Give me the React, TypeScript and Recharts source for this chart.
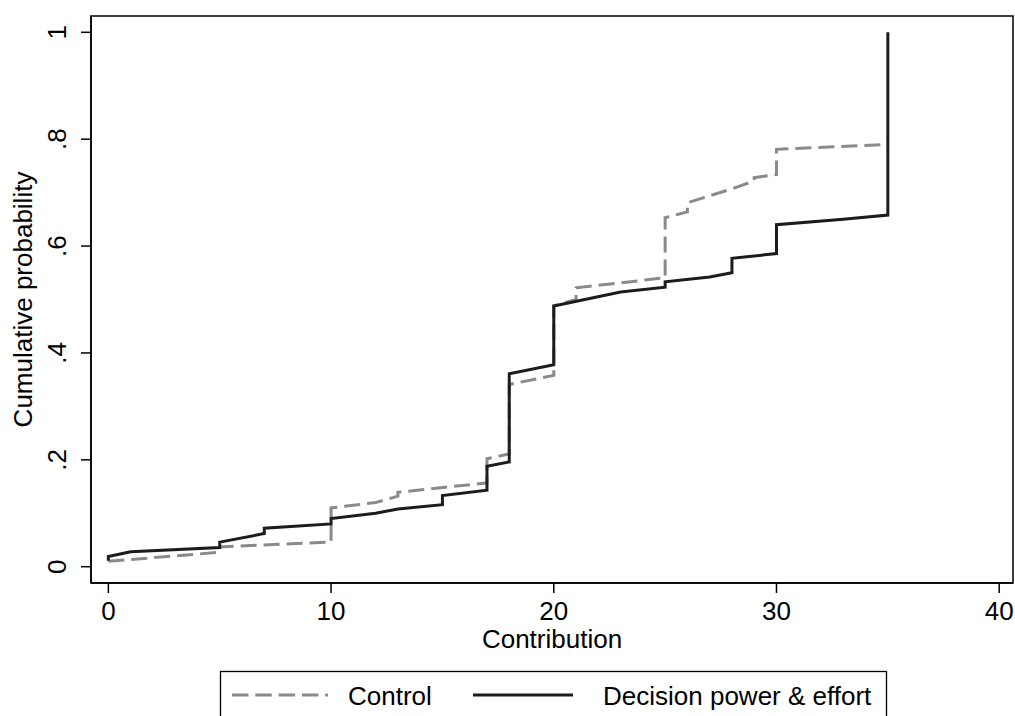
import { LineChart, Line, XAxis, YAxis, ReferenceArea } from 'recharts'

const controlX = [0, 5, 5, 10, 10, 12, 13, 13, 17, 17, 18, 18, 20, 20, 21, 21, 23, 25, 25, 26, 26, 28, 29, 29, 30, 30, 35]
const controlY = [0.010, 0.027, 0.037, 0.046, 0.110, 0.120, 0.132, 0.139, 0.157, 0.202, 0.211, 0.341, 0.358, 0.488, 0.500, 0.522, 0.531, 0.541, 0.653, 0.664, 0.681, 0.707, 0.722, 0.728, 0.734, 0.781, 0.790]

const treatX = [0, 0, 1, 5, 5, 7, 7, 10, 10, 12, 13, 15, 15, 17, 17, 18, 18, 20, 20, 23, 25, 25, 27, 28, 28, 30, 30, 33, 35, 35]
const treatY = [0.011, 0.019, 0.028, 0.036, 0.046, 0.062, 0.072, 0.080, 0.090, 0.100, 0.108, 0.116, 0.133, 0.143, 0.188, 0.196, 0.361, 0.378, 0.488, 0.514, 0.523, 0.533, 0.542, 0.550, 0.577, 0.586, 0.640, 0.650, 0.658, 1.0]

const xTicks = [0, 10, 20, 30, 40]
const yTicks = [0, 0.2, 0.4, 0.6, 0.8, 1]

const seriesNames = ['Control', 'Decision power & effort']

const controlData = controlX.map((x, i) => ({ x, y: controlY[i] }))
const treatData = treatX.map((x, i) => ({ x, y: treatY[i] }))

const FONT = '"Liberation Sans", Arial, Helvetica, sans-serif'
const xDomain = [-0.78, 40.62]
const yDomain = [-0.0305, 1.0305]

const fmtY = (v: number) => (v === 0 ? '0' : v === 1 ? '1' : String(v).replace(/^0/, ''))

function XTick({ x, y, payload }: any) {
  return (
    <text x={x} y={y + 18} textAnchor="middle" fontSize={26} fontFamily={FONT} fill="#000">
      {payload.value}
    </text>
  )
}

function YTick({ x, y, payload }: any) {
  return (
    <text
      x={x}
      y={y}
      transform={`rotate(-90, ${x}, ${y})`}
      textAnchor="middle"
      fontSize={26}
      fontFamily={FONT}
      fill="#000"
    >
      {fmtY(payload.value)}
    </text>
  )
}

function XTitle({ viewBox }: any) {
  const cx = viewBox ? viewBox.x + viewBox.width / 2 : 552
  const top = viewBox ? viewBox.y : 583
  return (
    <text x={cx} y={top + 65} textAnchor="middle" fontSize={26} fontFamily={FONT} fill="#000">
      Contribution
    </text>
  )
}

function YTitle({ viewBox }: any) {
  const cy = viewBox ? viewBox.y + viewBox.height / 2 : 299
  const bx = 32
  return (
    <text
      x={bx}
      y={cy}
      transform={`rotate(-90, ${bx}, ${cy})`}
      textAnchor="middle"
      fontSize={26}
      fontFamily={FONT}
      fill="#000"
    >
      Cumulative probability
    </text>
  )
}

export default function App() {
  return (
    <div style={{ position: 'absolute', left: 0, top: 0, width: 1015, height: 716, background: '#fff' }}>
      <LineChart width={1015} height={716} margin={{ top: 16, right: 2, bottom: 93, left: 0 }}>
        <XAxis
          type="number"
          dataKey="x"
          domain={xDomain}
          allowDataOverflow
          ticks={xTicks}
          tickSize={10}
          tickMargin={9}
          height={40}
          axisLine={{ stroke: '#000', strokeWidth: 1.5 }}
          tickLine={{ stroke: '#000', strokeWidth: 1.5 }}
          tick={<XTick />}
          label={<XTitle />}
        />
        <YAxis
          type="number"
          dataKey="y"
          domain={yDomain}
          allowDataOverflow
          ticks={yTicks}
          tickSize={10}
          tickMargin={15}
          width={91}
          axisLine={{ stroke: '#000', strokeWidth: 1.5 }}
          tickLine={{ stroke: '#000', strokeWidth: 1.5 }}
          tick={<YTick />}
          label={<YTitle />}
        />
        <ReferenceArea
          x1={xDomain[0]}
          x2={xDomain[1]}
          y1={yDomain[0]}
          y2={yDomain[1]}
          fill="none"
          stroke="#000"
          strokeWidth={1.5}
          ifOverflow="visible"
        />
        <Line
          data={controlData}
          dataKey="y"
          name={seriesNames[0]}
          type="linear"
          stroke="#8a8a8a"
          strokeWidth={3}
          strokeDasharray="16 7"
          dot={false}
          activeDot={false}
          isAnimationActive={false}
        />
        <Line
          data={treatData}
          dataKey="y"
          name={seriesNames[1]}
          type="linear"
          stroke="#1c1c1c"
          strokeWidth={3}
          dot={false}
          activeDot={false}
          isAnimationActive={false}
        />
      </LineChart>

      {/* Legend box, cut off at the bottom like the original */}
      <svg width={1015} height={716} style={{ position: 'absolute', left: 0, top: 0, pointerEvents: 'none' }}>
        <rect x={220.5} y={671.5} width={666} height={60} fill="#fff" stroke="#000" strokeWidth={1.3} />
        <line x1={232} y1={695} x2={328} y2={695} stroke="#8a8a8a" strokeWidth={3} strokeDasharray="16.5 6.8" />
        <text x={348} y={705} fontSize={26} fontFamily={FONT} fill="#000">
          {seriesNames[0]}
        </text>
        <line x1={473} y1={695} x2={573} y2={695} stroke="#1c1c1c" strokeWidth={3} />
        <text x={603} y={705} fontSize={26} fontFamily={FONT} fill="#000">
          {seriesNames[1]}
        </text>
      </svg>
    </div>
  )
}
